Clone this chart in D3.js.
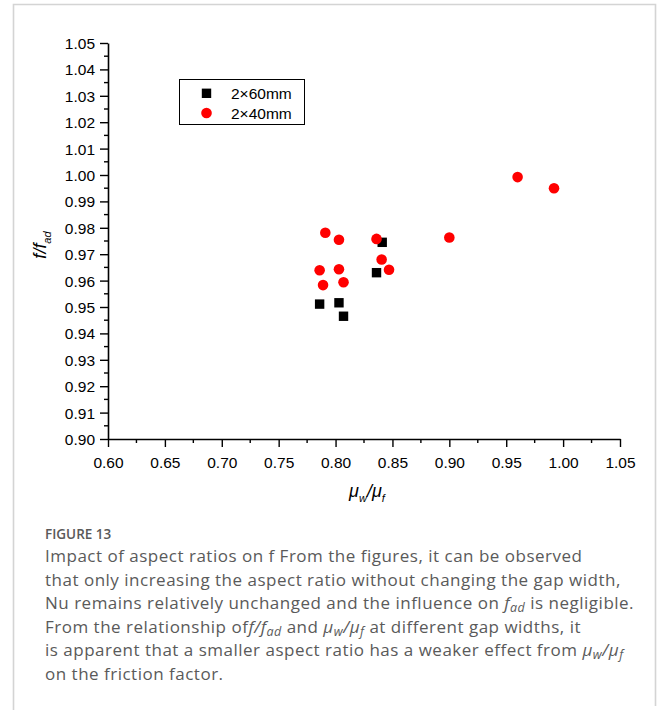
<!DOCTYPE html>
<html>
<head>
<meta charset="utf-8">
<script src="https://cdn.jsdelivr.net/npm/d3@7"></script>
<style>
  html, body { margin: 0; padding: 0; background: #fff; }
  svg { display: block; }
</style>
</head>
<body>
<svg id="chart" width="658" height="710"></svg>
<script>
// ---- data ----
const series60Name = "2×60mm";
const series60X = [0.841, 0.836, 0.786, 0.803, 0.807];
const series60Y = [0.9745, 0.9630, 0.9511, 0.9516, 0.9465];

const series40Name = "2×40mm";
const series40X = [0.960, 0.992, 0.791, 0.803, 0.836, 0.900, 0.8405, 0.847, 0.786, 0.803, 0.789, 0.807];
const series40Y = [0.9992, 0.9950, 0.9781, 0.9755, 0.9758, 0.9763, 0.9680, 0.9641, 0.9639, 0.9643, 0.9583, 0.9594];

const xTicks = [0.60, 0.65, 0.70, 0.75, 0.80, 0.85, 0.90, 0.95, 1.00, 1.05];
const yTicks = [0.90, 0.91, 0.92, 0.93, 0.94, 0.95, 0.96, 0.97, 0.98, 0.99, 1.00, 1.01, 1.02, 1.03, 1.04, 1.05];

// ---- layout ----
const svg = d3.select("#chart");
const plotL = 108, plotR = 620, plotT = 43, plotB = 439;
const x = d3.scaleLinear().domain([0.60, 1.05]).range([plotL, plotR]);
const y = d3.scaleLinear().domain([0.90, 1.05]).range([plotB, plotT]);

// panel border
svg.append("path")
  .attr("d", "M13.5,712 V4.5 H655.5 V706")
  .attr("fill", "none").attr("stroke", "#d4d4d4").attr("stroke-width", 1.6);

const axisFont = "'Liberation Sans', Arial, sans-serif";

// minor ticks
const xMinor = d3.range(0, 9).map(i => 0.625 + i * 0.05);
const yMinor = d3.range(0, 15).map(i => 0.905 + i * 0.01);

const gx = svg.append("g").attr("transform", `translate(0,${plotB})`);
gx.call(d3.axisBottom(x).tickValues(xTicks).tickFormat(d3.format(".2f")).tickSize(8).tickSizeOuter(0));
gx.selectAll(".minor").data(xMinor).enter().append("line")
  .attr("x1", d => x(d)).attr("x2", d => x(d)).attr("y1", 0).attr("y2", 4)
  .attr("stroke", "#000").attr("stroke-width", 1.4);

const gy = svg.append("g").attr("transform", `translate(${plotL},0)`);
gy.call(d3.axisLeft(y).tickValues(yTicks).tickFormat(d3.format(".2f")).tickSize(8).tickSizeOuter(0));
gy.selectAll(".minor").data(yMinor).enter().append("line")
  .attr("x1", 0).attr("x2", -4).attr("y1", d => y(d)).attr("y2", d => y(d))
  .attr("stroke", "#000").attr("stroke-width", 1.4);

[gx, gy].forEach(g => {
  g.select(".domain").attr("stroke", "#000").attr("stroke-width", 1.6);
  g.selectAll(".tick line").attr("stroke", "#000").attr("stroke-width", 1.4);
  g.selectAll(".tick text").attr("font-family", axisFont).attr("font-size", 15.5).attr("fill", "#000");
});
gx.selectAll(".tick text").attr("dy", null).attr("y", 29);
gy.selectAll(".tick text").attr("x", -13).attr("dy", "0.36em");

// axis titles
const xt = svg.append("text").attr("x", 367).attr("y", 497)
  .attr("text-anchor", "middle").attr("font-family", axisFont).attr("font-size", 18).attr("font-style", "italic");
xt.append("tspan").text("μ");
xt.append("tspan").attr("font-size", 11).attr("dy", 5).text("w");
xt.append("tspan").attr("dy", -5).text("/μ");
xt.append("tspan").attr("font-size", 11).attr("dy", 5).text("f");

const yt = svg.append("text").attr("transform", "translate(46,245) rotate(-90)")
  .attr("text-anchor", "middle").attr("font-family", axisFont).attr("font-size", 18).attr("font-style", "italic");
yt.append("tspan").text("f/f");
yt.append("tspan").attr("font-size", 11).attr("dy", 5).text("ad");

// data points
const data60 = series60X.map((v, i) => ({ x: v, y: series60Y[i] }));
const data40 = series40X.map((v, i) => ({ x: v, y: series40Y[i] }));
const sq = 9.4;
svg.append("g").selectAll("rect").data(data60).enter().append("rect")
  .attr("x", d => x(d.x) - sq / 2).attr("y", d => y(d.y) - sq / 2)
  .attr("width", sq).attr("height", sq).attr("fill", "#000");
svg.append("g").selectAll("circle").data(data40).enter().append("circle")
  .attr("cx", d => x(d.x)).attr("cy", d => y(d.y)).attr("r", 5.3).attr("fill", "#ff0000");

// legend
const lg = svg.append("g");
lg.append("rect").attr("x", 179.5).attr("y", 79.5).attr("width", 125).attr("height", 45)
  .attr("fill", "#fff").attr("stroke", "#000").attr("stroke-width", 1);
lg.append("rect").attr("x", 206.5 - sq / 2).attr("y", 93.3 - sq / 2).attr("width", sq).attr("height", sq).attr("fill", "#000");
lg.append("circle").attr("cx", 206.5).attr("cy", 113).attr("r", 5.3).attr("fill", "#ff0000");
lg.append("text").attr("x", 231).attr("y", 99).attr("font-family", axisFont).attr("font-size", 15.5).text(series60Name);
lg.append("text").attr("x", 231).attr("y", 119.3).attr("font-family", axisFont).attr("font-size", 15.5).text(series40Name);

// caption
const capFont = "'Open Sans', 'Noto Sans', sans-serif";
svg.append("text").attr("x", 45).attr("y", 539).attr("font-family", capFont)
  .attr("font-size", 13.5).attr("font-weight", 600).attr("fill", "#595959").text("FIGURE 13");

const capLines = [
  [["Impact of aspect ratios on f From the figures, it can be observed"]],
  [["that only increasing the aspect ratio without changing the gap width,"]],
  [["Nu remains relatively unchanged and the influence on "], ["f", "i"], ["ad", "is"], [" is negligible."]],
  [["From the relationship of"], ["f/f", "i"], ["ad", "is"], [" and "], ["μ", "i"], ["w", "is"], ["/", "i"], ["μ", "i"], ["f", "is"], [" at different gap widths, it"]],
  [["is apparent that a smaller aspect ratio has a weaker effect from "], ["μ", "i"], ["w", "is"], ["/", "i"], ["μ", "i"], ["f", "is"]],
  [["on the friction factor."]]
];
const capY0 = 562, capDY = 23.5;
capLines.forEach((segs, li) => {
  const t = svg.append("text").attr("x", 45).attr("y", capY0 + li * capDY)
    .attr("font-family", capFont).attr("font-size", 17).attr("letter-spacing", 0.5).attr("fill", "#5a5a5a");
  let sub = false;
  segs.forEach(([s, k]) => {
    const sp = t.append("tspan").text(s);
    if (k === "i") sp.attr("font-style", "italic");
    if (k === "is") {
      sp.attr("font-style", "italic").attr("font-size", 12.5);
      if (!sub) { sp.attr("dy", 3); sub = true; }
    } else if (sub) { sp.attr("dy", -3); sub = false; }
  });
});
</script>
</body>
</html>
